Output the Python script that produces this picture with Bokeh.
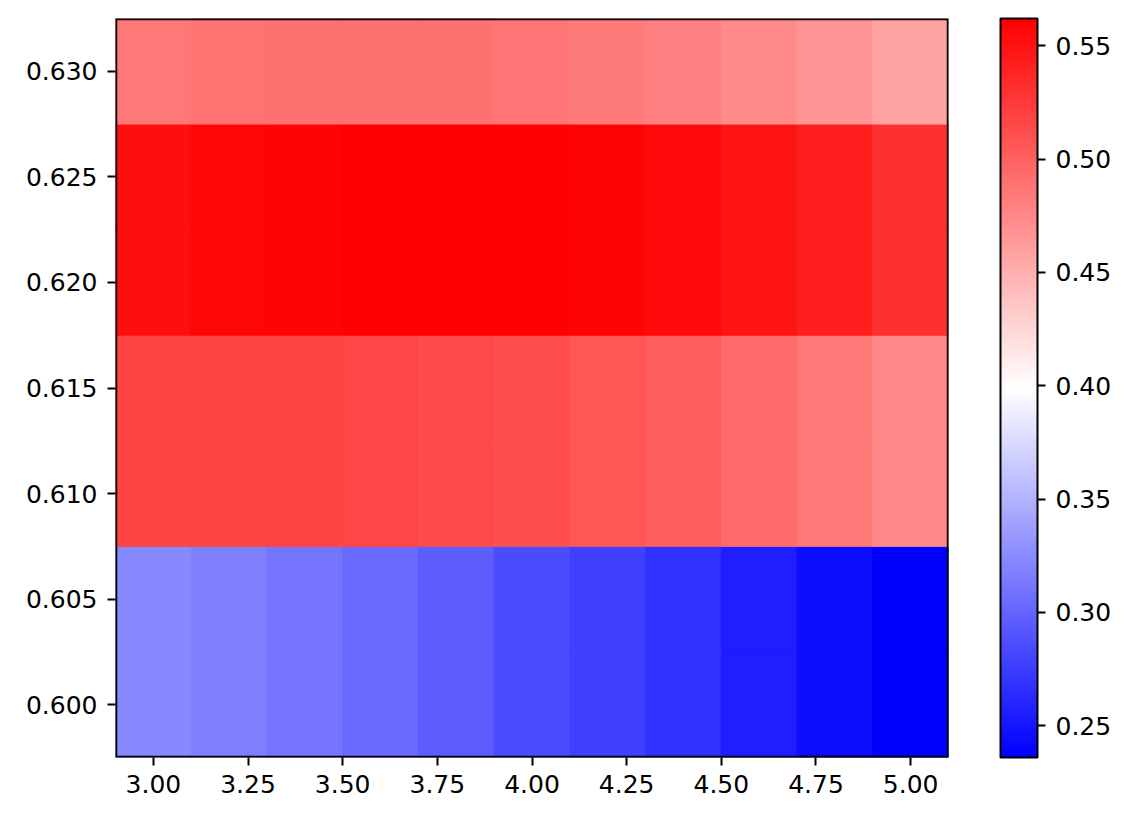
from bokeh.plotting import figure
from bokeh.models import (ColumnDataSource, LinearColorMapper, ColorBar,
                          FixedTicker, NumeralTickFormatter, Range1d, BoxAnnotation)
from bokeh.transform import transform
from bokeh.embed import file_html
from bokeh.resources import INLINE

# grid of the map: cell centres
x_vals = [3.0, 3.2, 3.4, 3.6, 3.8, 4.0, 4.2, 4.4, 4.6, 4.8, 5.0]
y_vals = [0.600, 0.605, 0.610, 0.615, 0.620, 0.625, 0.630]

# one list per y row
row_600 = [0.323, 0.318, 0.310, 0.304, 0.296, 0.285, 0.277, 0.268, 0.256, 0.246, 0.236]
row_605 = [0.323, 0.318, 0.310, 0.304, 0.296, 0.285, 0.277, 0.268, 0.256, 0.246, 0.236]
row_610 = [0.518, 0.518, 0.518, 0.517, 0.514, 0.512, 0.506, 0.501, 0.494, 0.485, 0.475]
row_615 = [0.518, 0.518, 0.518, 0.517, 0.514, 0.512, 0.506, 0.501, 0.494, 0.485, 0.475]
row_620 = [0.552, 0.558, 0.559, 0.561, 0.562, 0.561, 0.559, 0.555, 0.548, 0.542, 0.531]
row_625 = [0.552, 0.558, 0.559, 0.561, 0.562, 0.561, 0.559, 0.555, 0.548, 0.542, 0.531]
row_630 = [0.485, 0.489, 0.490, 0.490, 0.490, 0.487, 0.484, 0.480, 0.474, 0.467, 0.458]
rows = [row_600, row_605, row_610, row_615, row_620, row_625, row_630]

x_ticks = [3.0, 3.25, 3.5, 3.75, 4.0, 4.25, 4.5, 4.75, 5.0]
y_ticks = [0.600, 0.605, 0.610, 0.615, 0.620, 0.625, 0.630]
cbar_ticks = [0.25, 0.30, 0.35, 0.40, 0.45, 0.50, 0.55]

# matplotlib's "bwr": blue -> white -> red
def bwr(n=256):
    out = []
    for i in range(n):
        t = i / (n - 1)
        if t < 0.5:
            g = int(round(2 * t * 255))
            out.append("#%02x%02x%02x" % (g, g, 255))
        else:
            g = int(round(2 * (1 - t) * 255))
            out.append("#%02x%02x%02x" % (255, g, g))
    return out

xs, ys, vs = [], [], []
for yv, row in zip(y_vals, rows):
    for xv, v in zip(x_vals, row):
        xs.append(xv)
        ys.append(yv)
        vs.append(v)
src = ColumnDataSource(data=dict(x=xs, y=ys, v=vs))

mapper = LinearColorMapper(palette=bwr(), low=min(vs), high=max(vs))

p = figure(frame_width=833, frame_height=739,
           x_range=Range1d(2.9, 5.1), y_range=Range1d(0.5975, 0.6325),
           output_backend="svg", toolbar_location=None,
           min_border_left=115, min_border_top=18, min_border_bottom=50,
           min_border_right=10)

p.rect(x="x", y="y", width=0.2, height=0.005, source=src,
       fill_color=transform("v", mapper), line_color=transform("v", mapper),
       line_width=1)

p.grid.visible = False
p.outline_line_color = None

# black frame drawn on top of the cells (half of it is clipped)
frame_box = BoxAnnotation(fill_color=None, fill_alpha=0,
                          line_color="black", line_alpha=1.0, line_width=3.5)
p.add_layout(frame_box)

p.xaxis.ticker = FixedTicker(ticks=x_ticks)
p.xaxis.formatter = NumeralTickFormatter(format="0.00")
p.yaxis.ticker = FixedTicker(ticks=y_ticks)
p.yaxis.formatter = NumeralTickFormatter(format="0.000")

for ax in (p.xaxis[0], p.yaxis[0]):
    ax.axis_line_color = None
    ax.major_tick_in = 0
    ax.major_tick_out = 8
    ax.major_tick_line_width = 2
    ax.major_tick_line_color = "black"
    ax.minor_tick_line_color = None
    ax.major_label_text_font = "DejaVu Sans"
    ax.major_label_text_font_size = "25px"
    ax.major_label_text_color = "black"
p.xaxis.major_label_standoff = 9
p.yaxis.major_label_standoff = 10

cbar = ColorBar(color_mapper=mapper,
                ticker=FixedTicker(ticks=cbar_ticks),
                formatter=NumeralTickFormatter(format="0.00"),
                width=37, height=739, padding=0, margin=0,
                location=(52, 0),
                label_standoff=10,
                major_tick_in=0, major_tick_out=8,
                major_tick_line_color="black", major_tick_line_width=2,
                minor_tick_line_color=None,
                bar_line_color="black", bar_line_width=2,
                border_line_color=None, background_fill_color=None,
                major_label_text_font="DejaVu Sans",
                major_label_text_font_size="25px",
                major_label_text_color="black")
p.add_layout(cbar, "right")

open("out.html", "w").write(file_html(p, INLINE))
